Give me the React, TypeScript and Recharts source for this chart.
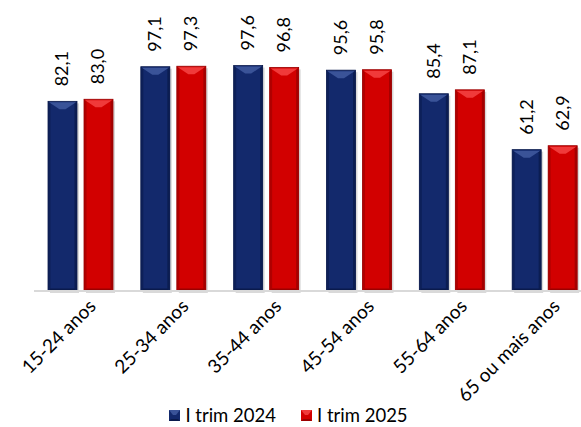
import React from "react";
import { Bar, BarChart, Legend, XAxis, YAxis } from "recharts";

const CATEGORIES = ["15-24 anos", "25-34 anos", "35-44 anos", "45-54 anos", "55-64 anos", "65 ou mais anos"];
const TRIM_2024 = [82.1, 97.1, 97.6, 95.6, 85.4, 61.2];
const TRIM_2025 = [83.0, 97.3, 96.8, 95.8, 87.1, 62.9];
const SERIES_NAMES = ["I trim 2024", "I trim 2025"];

const NAVY = { base: "#13296C", light: "#3A5398", dark: "#0A1A4C" };
const RED = { base: "#D20000", light: "#F03A3A", dark: "#9A0000" };
const FONT = "Lato, 'DejaVu Sans', sans-serif";

const data = CATEGORIES.map((cat, i) => ({ cat, t2024: TRIM_2024[i], t2025: TRIM_2025[i] }));

const fmt = (v: number) => v.toFixed(1).replace(".", ",");

// barra com chanfro + rótulo vertical do valor
function bevelShape(c: { base: string; light: string; dark: string }, key: "t2024" | "t2025") {
  return (props: any) => {
    const { x, y, width: w, height: h, payload } = props;
    if (!h || h <= 0) return null;
    const s = 2.5;
    const t = 8;
    const cx = x + w / 2;
    const cy = y - 15;
    return (
      <g>
        <rect x={x + 2} y={y + 2} width={w} height={h} fill="rgba(0,0,0,0.15)" />
        <rect x={x} y={y} width={w} height={h} fill={c.base} stroke={c.dark} strokeWidth={0.8} />
        <polygon points={`${x + 1},${y + 1} ${x + w - 1},${y + 1} ${x + w / 2 + 3},${y + t} ${x + w / 2 - 3},${y + t}`} fill={c.light} />
        <polygon points={`${x},${y} ${x + s},${y + s} ${x + s},${y + h - s} ${x},${y + h}`} fill={c.dark} opacity={0.6} />
        <polygon points={`${x + w},${y} ${x + w - s},${y + s} ${x + w - s},${y + h - s} ${x + w},${y + h}`} fill={c.dark} opacity={0.8} />
        <polygon points={`${x},${y + h} ${x + s},${y + h - s} ${x + w - s},${y + h - s} ${x + w},${y + h}`} fill={c.dark} />
        <text
          x={cx}
          y={cy}
          dx={0}
          dy={6}
          transform={`rotate(-90 ${cx} ${cy})`}
          textAnchor="start"
          fontSize={18}
          fill="#000"
          fontFamily={FONT}
        >
          {fmt(Number(payload[key]))}
        </text>
      </g>
    );
  };
}

const LegendContent = () => (
  <div
    style={{
      display: "flex",
      justifyContent: "center",
      alignItems: "flex-end",
      height: 46,
      boxSizing: "border-box",
      paddingBottom: 1,
      gap: 25,
      fontFamily: FONT,
      fontSize: 18.5,
      lineHeight: "22px",
      paddingRight: 4,
    }}
  >
    {[NAVY, RED].map((c, i) => (
      <span key={i} style={{ display: "flex", alignItems: "center", gap: 5 }}>
        <svg width={11} height={11}>
          <rect x={0} y={0} width={11} height={11} fill={c.base} />
          <polygon points="0,0 11,0 7,5 4,5" fill={c.light} />
          <polygon points="0,11 2,9 9,9 11,11" fill={c.dark} />
        </svg>
        {SERIES_NAMES[i]}
      </span>
    ))}
  </div>
);

export default function App() {
  return (
    <div style={{ position: "absolute", left: 0, top: 0, width: 581, height: 427, background: "#fff", overflow: "hidden" }}>
      <BarChart width={581} height={427} data={data} margin={{ top: 60, right: -10, bottom: 0, left: 34 }} barSize={29} barGap={7}>
        <XAxis
          dataKey="cat"
          angle={-45}
          textAnchor="end"
          dx={7}
          dy={-1}
          tick={{ fontSize: 19, fill: "#000", fontFamily: FONT }}
          tickLine={false}
          axisLine={{ stroke: "#D9D9D9", strokeWidth: 2 }}
          height={90}
          interval={0}
        />
        <YAxis hide domain={[0, 100]} />
        <Legend
          verticalAlign="bottom"
          content={<LegendContent />}
          wrapperStyle={{ height: 46, left: 0, width: 581 }}
        />
        <Bar dataKey="t2024" name={SERIES_NAMES[0]} fill={NAVY.base} shape={bevelShape(NAVY, "t2024")} isAnimationActive={false} />
        <Bar dataKey="t2025" name={SERIES_NAMES[1]} fill={RED.base} shape={bevelShape(RED, "t2025")} isAnimationActive={false} />
      </BarChart>
    </div>
  );
}
